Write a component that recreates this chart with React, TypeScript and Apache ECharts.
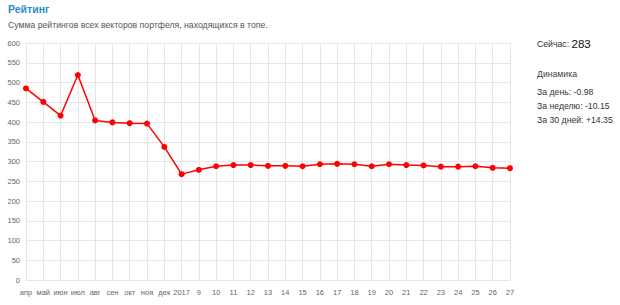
import React, { useEffect, useRef } from "react";
import * as echarts from "echarts";

const categories = [
  "апр", "май", "июн", "июл", "авг", "сен", "окт", "ноя", "дек", "2017",
  "9", "10", "11", "12", "13", "14", "15", "16", "17", "18", "19", "20",
  "21", "22", "23", "24", "25", "26", "27",
];
const ratingValues = [
  485, 451, 416, 519, 404, 399, 397, 396, 337, 268,
  279, 288, 291, 291, 289, 289, 288, 293, 294, 293, 288, 293,
  291, 290, 287, 287, 288, 284, 283,
];
const titleText = "Рейтинг";
const subtitleText = "Сумма рейтингов всех векторов портфеля, находящихся в топе.";
const currentLabel = "Сейчас: ";
const currentValue = "283";
const dynamicsTitle = "Динамика";
const dynamicsLines = ["За день: -0.98", "За неделю: -10.15", "За 30 дней: +14.35"];

export default function App() {
  const ref = useRef<HTMLDivElement>(null);
  useEffect(() => {
    document.body.style.margin = "0";
    const chart = echarts.init(ref.current!, null, { renderer: "svg" });
    const font = "Liberation Sans, Arial, sans-serif";
    chart.setOption({
      animation: false,
      backgroundColor: "#ffffff",
      grid: { left: 26, right: 110, top: 43, bottom: 25 },
      xAxis: {
        type: "category",
        data: categories,
        boundaryGap: false,
        axisLine: { show: true, lineStyle: { color: "#e6e6e6" } },
        axisTick: { show: false },
        axisLabel: { interval: 0, color: "#666", fontSize: 7.5, fontFamily: font, margin: 8 },
        splitLine: { show: true, lineStyle: { color: "#e6e6e6" } },
      },
      yAxis: {
        type: "value",
        min: 0,
        max: 600,
        interval: 50,
        axisLine: { show: true, lineStyle: { color: "#e6e6e6" } },
        axisTick: { show: false },
        axisLabel: { color: "#666", fontSize: 7.5, fontFamily: font, margin: 6 },
        splitLine: { show: true, lineStyle: { color: "#e6e6e6" } },
      },
      series: [
        {
          type: "line",
          data: ratingValues,
          symbol: "circle",
          symbolSize: 6,
          itemStyle: { color: "#ff0000" },
          lineStyle: { color: "#ff0000", width: 1.5 },
        },
      ],
      graphic: [
        {
          type: "text", left: 8, top: 3,
          style: { text: titleText, fill: "#2a8ccd", font: `bold 10.5px ${font}` },
        },
        {
          type: "text", left: 8, top: 20,
          style: { text: subtitleText, fill: "#555", font: `8.7px ${font}` },
        },
        {
          type: "text", left: 537, top: 38,
          style: {
            text: `{a|${currentLabel}}{b|${currentValue}}`,
            rich: {
              a: { fill: "#333", fontSize: 8.7, fontFamily: font },
              b: { fill: "#111", fontSize: 11.5, fontFamily: font },
            },
          },
        },
        {
          type: "text", left: 537, top: 69,
          style: { text: dynamicsTitle, fill: "#444", font: `8.7px ${font}` },
        },
        ...dynamicsLines.map((t, i) => ({
          type: "text", left: 537, top: 87 + i * 14,
          style: { text: t, fill: "#333", font: `8.7px ${font}` },
        })),
      ],
    });
    return () => chart.dispose();
  }, []);
  return <div ref={ref} style={{ width: 620, height: 305 }} />;
}
